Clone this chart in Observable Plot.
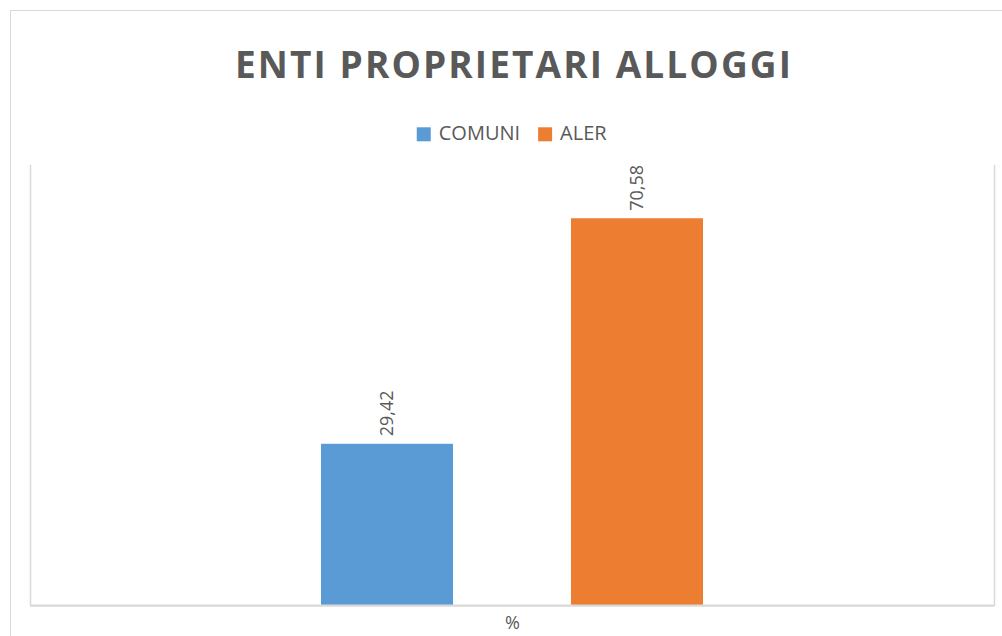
<!DOCTYPE html>
<html><head><meta charset="utf-8">
<script src="https://cdn.jsdelivr.net/npm/d3@7"></script>
<script src="https://cdn.jsdelivr.net/npm/@observablehq/plot@0.6"></script>
<style>
html,body{margin:0;padding:0;background:#fff;}
body{width:1002px;height:636px;position:relative;overflow:hidden;font-family:"Open Sans",sans-serif;}
#border{position:absolute;left:10px;top:10px;width:1100px;height:700px;border:1.5px solid #D9D9D9;box-sizing:border-box;}
#header{position:absolute;left:0;top:0;}
#chart{position:absolute;left:0;top:150px;}
</style></head><body>
<div id="border"></div>
<svg id="header" width="1002" height="150"></svg>
<div id="chart"></div>
<script>
const title = "ENTI PROPRIETARI ALLOGGI";
const category = "%";
const series = ["COMUNI", "ALER"];
const values = [29.42, 70.58];
const colors = ["#5B9BD5", "#ED7D31"];

const fmt = v => v.toFixed(2).replace(".", ",");
const data = series.map((s, i) => ({category, series: s, value: values[i]}));

// Header: title + legend
const header = d3.select("#header");
header.append("text")
  .attr("x", 514).attr("y", 78.3)
  .attr("text-anchor", "middle")
  .attr("font-family", '"Open Sans", sans-serif')
  .attr("font-weight", 700)
  .attr("font-size", 37)
  .attr("letter-spacing", 2.1)
  .attr("fill", "#595959")
  .text(title);

const leg = header.append("g");
let cx = 0;
series.forEach((s, i) => {
  const g = leg.append("g").attr("transform", `translate(${cx},0)`);
  g.append("rect").attr("x", 0).attr("y", 127.3).attr("width", 14).attr("height", 14).attr("fill", colors[i]);
  const t = g.append("text").attr("x", 22).attr("y", 140)
    .attr("font-family", '"Open Sans", sans-serif').attr("font-size", 20).attr("fill", "#595959").text(s);
  cx += 22 + t.node().getComputedTextLength() + 18;
});
const legW = cx - 18;
leg.attr("transform", `translate(${511.7 - legW / 2},0)`);

const chart = Plot.plot({
  width: 1002, height: 486,
  marginTop: 15, marginBottom: 31, marginLeft: 30, marginRight: 8,
  style: {fontFamily: '"Open Sans", sans-serif', fontSize: "18px", color: "#595959", background: "transparent"},
  fx: {domain: [category], padding: 0, label: null},
  x: {domain: series, paddingInner: 0.472, paddingOuter: 1.164, axis: null},
  y: {domain: [0, 80.3], axis: null},
  color: {domain: series, range: colors},
  marks: [
    Plot.frame({anchor: "left", stroke: "#D9D9D9", strokeWidth: 1.5}),
    Plot.frame({anchor: "right", stroke: "#D9D9D9", strokeWidth: 1.5}),
    Plot.barY(data, {fx: "category", x: "series", y: "value", fill: "series"}),
    Plot.ruleY([0], {stroke: "#D9D9D9", strokeWidth: 2.25}),
    Plot.text(data, {fx: "category", x: "series", y: "value", text: d => fmt(d.value),
      rotate: -90, textAnchor: "start", dy: -8, fill: "#595959", fontSize: 18}),
    Plot.axisFx({anchor: "bottom", tickSize: 0, tickPadding: 11, fontSize: 18, label: null, fill: "#595959"})
  ]
});
document.getElementById("chart").appendChild(chart);
</script>
</body></html>
